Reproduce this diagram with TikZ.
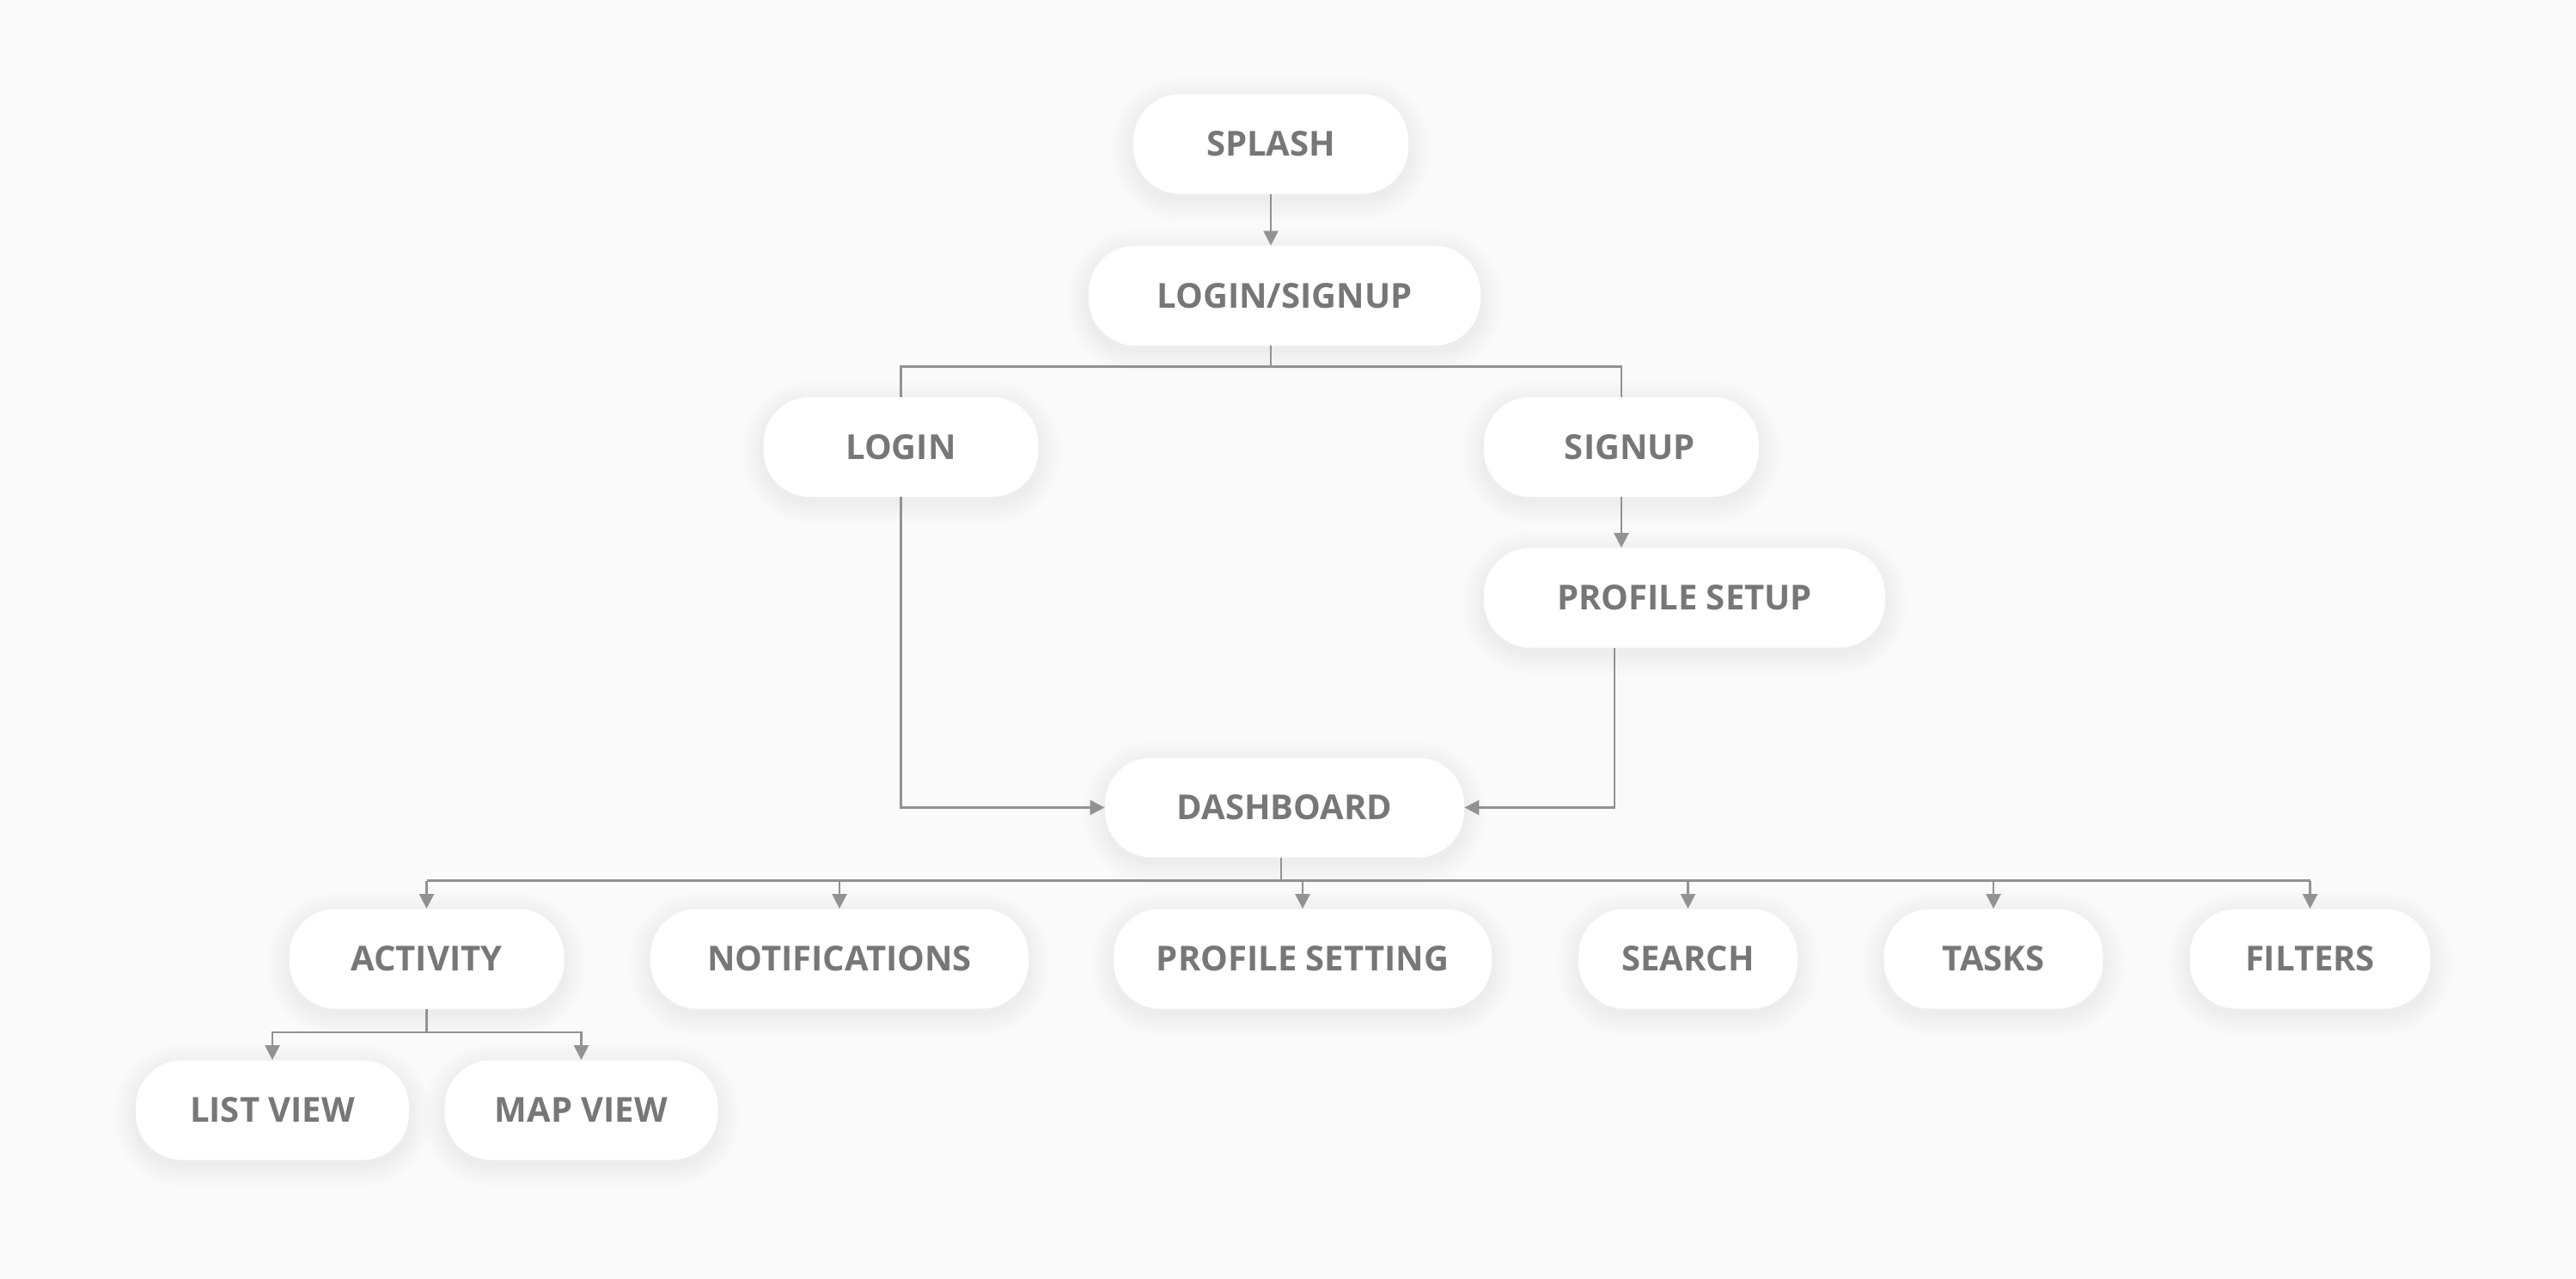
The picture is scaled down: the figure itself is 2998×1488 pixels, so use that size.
\documentclass[tikz,border=0pt]{standalone}
\usepackage{fontspec}
\setmainfont{Open Sans}
\usetikzlibrary{arrows.meta}
\definecolor{bg}{HTML}{FAFAFA}
\definecolor{txt}{HTML}{777777}
\definecolor{ln}{HTML}{929292}
\pgfdeclarelayer{bgl}
\pgfdeclarelayer{shad}
\pgfsetlayers{bgl,shad,main}
\tikzset{
  box/.style={rectangle, rounded corners=27pt, fill=white, minimum height=58pt,
    inner sep=0pt, text=txt, font=\fontsize{20}{24}\selectfont\bfseries},
  shadowstep/.style={fill=black, fill opacity=0.0055},
  conn/.style={draw=ln, line width=1.2pt},
  arr/.style={conn, -{Triangle[length=8.5pt,width=8.5pt]}, ln}
}
\newcommand{\softshadow}[1]{%
  \begin{pgfonlayer}{shad}
  \foreach \k [evaluate=\k as \r using 27+\k] in {0.5,1.5,...,12.5}
    \path[shadowstep, rounded corners=\r pt]
      ([xshift=-\k pt, yshift=-\k pt-3pt]#1.south west) rectangle
      ([xshift=\k pt, yshift=\k pt-3pt]#1.north east);
  \end{pgfonlayer}}
\begin{document}
\begin{tikzpicture}[x=0.5pt,y=-0.5pt]
\begin{pgfonlayer}{bgl}
\fill[bg] (0,0) rectangle (2998,1488);
\end{pgfonlayer}
\useasboundingbox (0,0) rectangle (2998,1488);
% nodes
\node[box, minimum width=160pt] (splash) at (1479,167.5) {SPLASH};
\node[box, minimum width=228pt] (loginsignup) at (1495,344) {LOGIN/SIGNUP};
\node[box, minimum width=160pt] (login) at (1048.5,520) {LOGIN};
\node[box, minimum width=160pt] (signup) at (1887,520) {\hspace*{10pt}SIGNUP};
\node[box, minimum width=233.5pt] (profile) at (1960.5,695.5) {PROFILE SETUP};
\node[box, minimum width=209pt] (dashboard) at (1495,939.5) {DASHBOARD};
\node[box, minimum width=160pt] (activity) at (496.5,1115.5) {ACTIVITY};
\node[box, minimum width=220pt] (notif) at (977,1115.5) {NOTIFICATIONS};
\node[box, minimum width=220pt] (psetting) at (1516,1115.5) {PROFILE SETTING};
\node[box, minimum width=127.5pt] (search) at (1964.5,1115.5) {SEARCH};
\node[box, minimum width=127.5pt] (tasks) at (2320,1115.5) {TASKS};
\node[box, minimum width=140pt] (filters) at (2688.5,1115.5) {FILTERS};
\node[box, minimum width=159pt] (listview) at (317,1291.5) {LIST VIEW};
\node[box, minimum width=159pt] (mapview) at (676.5,1291.5) {MAP VIEW};
\foreach \n in {splash,loginsignup,login,signup,profile,dashboard,activity,notif,psetting,search,tasks,filters,listview,mapview}
  {\softshadow{\n}}
% helper coordinates
\coordinate (bus1) at (1479,426.5);
\coordinate (pd) at (1879,753);
\coordinate (bus2) at (1491,1024.5);
\coordinate (bus3) at (496.5,1201);
% connectors
\draw[arr] (splash.south) -- (splash.south |- loginsignup.north);
\draw[conn] (bus1 |- loginsignup.south) -- (bus1);
\draw[conn] (login.north) |- (bus1) -| (signup.north);
\draw[arr] (signup.south) -- (signup.south |- profile.north);
\draw[arr] (login.south) |- (dashboard.west);
\draw[arr] (pd |- profile.south) |- (dashboard.east);
\draw[conn] (bus2 |- dashboard.south) -- (bus2);
\draw[conn] (activity.north |- bus2) -- (filters.north |- bus2);
\foreach \n in {activity,notif,psetting,search,tasks,filters}
  \draw[arr] (\n.north |- bus2) -- (\n.north);
\draw[conn] (activity.south) -- (bus3);
\draw[arr] (bus3) -| (listview.north);
\draw[arr] (bus3) -| (mapview.north);
\end{tikzpicture}
\end{document}
